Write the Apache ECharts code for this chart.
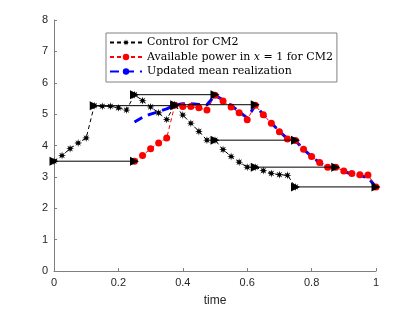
<!DOCTYPE html>
<html>
<head>
<meta charset="utf-8">
<script src="https://cdn.jsdelivr.net/npm/echarts@6/dist/echarts.min.js"></script>
<style>html,body{margin:0;padding:0;background:#fff}#c{width:415px;height:312px}</style>
</head>
<body>
<div id="c"></div>
<script>
// ---- data ----
var controlT = [0,0.025,0.05,0.075,0.1,0.125,0.15,0.175,0.2,0.225,0.25,0.275,0.3,0.325,0.35,0.375,0.4,0.425,0.45,0.475,0.5,0.525,0.55,0.575,0.6,0.625,0.65,0.675,0.7,0.725,0.75];
var controlV = [3.5,3.68,3.9,4.08,4.24,5.27,5.25,5.25,5.2,5.13,5.62,5.43,5.23,5.04,4.83,5.3,4.97,4.71,4.45,4.17,4.17,3.87,3.65,3.47,3.31,3.31,3.2,3.11,3.07,3.05,2.68];

var powerT = [0.25,0.275,0.3,0.325,0.35,0.375,0.4,0.425,0.45,0.475,0.5,0.525,0.55,0.575,0.6,0.625,0.65,0.675,0.7,0.725,0.75,0.775,0.8,0.825,0.85,0.875,0.9,0.925,0.95,0.975,1.0];
var powerV = [3.5,3.68,3.9,4.08,4.24,5.28,5.24,5.24,5.2,5.13,5.6,5.42,5.23,5.04,4.82,5.28,4.98,4.71,4.44,4.21,4.16,3.88,3.65,3.46,3.31,3.31,3.19,3.11,3.07,3.06,2.68];

var meanT = [0.25,0.275,0.3,0.325,0.35,0.375,0.4,0.425,0.45,0.475,0.5,0.525,0.55,0.575,0.6,0.625,0.65,0.675,0.7,0.725,0.75,0.775,0.8,0.825,0.85,0.875,0.9,0.925,0.95,0.975,1.0];
var meanV = [4.75,4.9,5.0,5.08,5.17,5.28,5.33,5.33,5.31,5.3,5.6,5.45,5.28,5.08,4.88,5.28,4.98,4.72,4.45,4.22,4.15,3.88,3.65,3.45,3.3,3.3,3.17,3.09,3.04,2.98,2.68];

var arrowStartT = [0,0.125,0.25,0.375,0.5,0.625,0.75];
var arrowEndT   = [0.25,0.375,0.5,0.625,0.75,0.875,1.0];
var arrowV      = [3.5,5.27,5.62,5.3,4.17,3.31,2.68];

var xTicks = [0,0.2,0.4,0.6,0.8,1];
var yTicks = [0,1,2,3,4,5,6,7,8];

var names = ['Control for CM2','Available power in x = 1 for CM2','Updated mean realization'];

// ---- helpers ----
function pairs(t, v){ return t.map(function(x,i){ return [x, v[i]]; }); }
function starPath(){
  var p = [];
  for (var i = 0; i < 16; i++) {
    var a = i * Math.PI / 8, r = (i % 2 === 0) ? 1 : 0.42;
    p.push((50 + 50 * r * Math.cos(a)).toFixed(2) + ' ' + (50 + 50 * r * Math.sin(a)).toFixed(2));
  }
  return 'path://M' + p.join(' L') + ' Z';
}
var star = starPath();

var series = [
  {
    name: names[2], type: 'line', data: pairs(meanT, meanV), z: 2,
    showSymbol: false, symbol: 'none',
    lineStyle: { color: '#0000ff', width: 3, type: [9, 6] },
    itemStyle: { color: '#0000ff' }, animation: false
  },
  {
    name: names[1], type: 'line', data: pairs(powerT, powerV), z: 3,
    symbol: 'circle', symbolSize: 7,
    lineStyle: { color: '#ff0000', width: 1, type: [4, 3] },
    itemStyle: { color: '#ff0000' }, animation: false
  },
  {
    name: names[0], type: 'line', data: pairs(controlT, controlV), z: 4,
    symbol: star, symbolSize: 8,
    lineStyle: { color: '#000000', width: 1, type: [4, 3] },
    itemStyle: { color: '#000000' }, animation: false
  }
];
arrowStartT.forEach(function(t0, i){
  series.push({
    name: 'arrow' + i, type: 'line', z: 5,
    data: [[t0, arrowV[i]], [arrowEndT[i], arrowV[i]]],
    symbol: 'triangle', symbolSize: [9, 9], symbolRotate: -90,
    lineStyle: { color: '#000000', width: 1 },
    itemStyle: { color: '#000000' }, animation: false, silent: true
  });
});

var chart = echarts.init(document.getElementById('c'), null, { renderer: 'canvas' });
chart.setOption({
  animation: false,
  backgroundColor: '#ffffff',
  grid: { left: 54, right: 39, top: 20, bottom: 38 },
  legend: {
    data: names,
    orient: 'vertical',
    left: 106, top: 33,
    itemWidth: 32, itemHeight: 8, itemGap: 3.5,
    padding: [4, 4, 5, 3],
    backgroundColor: '#ffffff',
    borderColor: '#808080', borderWidth: 1,
    textStyle: {
      fontFamily: 'DejaVu Serif', fontSize: 11, color: '#000',
      rich: {
        n: { fontFamily: 'DejaVu Serif', fontSize: 11, color: '#000' },
        i: { fontFamily: 'DejaVu Serif', fontSize: 11, fontStyle: 'italic', color: '#000' }
      }
    },
    formatter: function(n){
      if (n === names[1]) return '{n|Available power in }{i|x}{n| = 1 for CM2}';
      return '{n|' + n + '}';
    }
  },
  xAxis: {
    type: 'value', min: 0, max: 1, interval: 0.2,
    name: 'time', nameLocation: 'middle', nameGap: 24,
    nameTextStyle: { fontFamily: 'Liberation Sans', fontSize: 12, color: '#262626' },
    axisLine: { lineStyle: { color: '#7f7f7f', width: 1 } },
    axisTick: { inside: true, length: 3, lineStyle: { color: '#7f7f7f' } },
    axisLabel: { fontFamily: 'Liberation Sans', fontSize: 11, color: '#262626', margin: 6,
      formatter: function(v){ return String(+v.toFixed(1)); } },
    splitLine: { show: false }
  },
  yAxis: {
    type: 'value', min: 0, max: 8, interval: 1,
    axisLine: { show: true, lineStyle: { color: '#7f7f7f', width: 1 } },
    axisTick: { show: true, inside: true, length: 3, lineStyle: { color: '#7f7f7f' } },
    axisLabel: { fontFamily: 'Liberation Sans', fontSize: 11, color: '#262626', margin: 6 },
    splitLine: { show: false }
  },
  series: series
});
</script>
</body>
</html>
